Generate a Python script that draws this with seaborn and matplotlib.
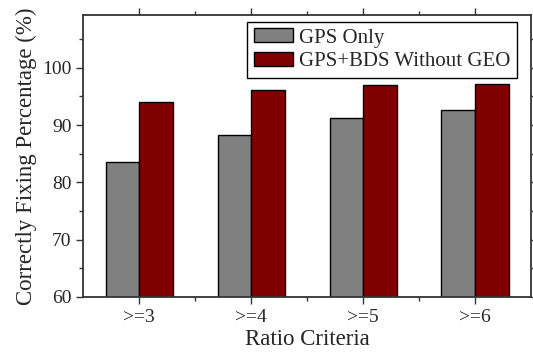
import pandas as pd
import seaborn as sns
import matplotlib
matplotlib.use("Agg")
from matplotlib import pyplot as plt
from matplotlib.ticker import MultipleLocator, FixedLocator

criteria = [">=3", ">=4", ">=5", ">=6"]
gps_only = [83.5, 88.3, 91.2, 92.6]
gps_bds = [94.1, 96.2, 96.9, 97.1]
series_names = ["GPS Only", "GPS+BDS Without GEO"]

df = pd.DataFrame({
    "Ratio Criteria": criteria * 2,
    "value": gps_only + gps_bds,
    "series": [series_names[0]] * 4 + [series_names[1]] * 4,
})

sns.set_style("ticks")
plt.rcParams["font.family"] = ["Liberation Serif", "DejaVu Serif"]
plt.rcParams["mathtext.fontset"] = "stix"

fig = plt.figure(figsize=(5.33, 3.52), dpi=100)
ax = fig.add_axes([0.1563, 0.1563, 0.8399, 0.8011])

sns.barplot(data=df, x="Ratio Criteria", y="value", hue="series",
            palette=["#808080", "#800000"], edgecolor="black", linewidth=1.0,
            width=0.6, saturation=1, ax=ax)

ax.set_xlim(-0.5, 3.5)
ax.set_ylim(60, 109.2)
ax.yaxis.set_major_locator(FixedLocator([60, 70, 80, 90, 100]))
ax.yaxis.set_minor_locator(MultipleLocator(5))
ax.xaxis.set_minor_locator(FixedLocator([0.5, 1.5, 2.5]))

for s in ax.spines.values():
    s.set_visible(True)
    s.set_color("#333333")
    s.set_linewidth(1.3)

ax.tick_params(which="both", direction="out", top=True, right=True,
               color="#333333", width=1.0)
ax.tick_params(which="major", length=5, labelsize=14)
ax.tick_params(which="minor", length=3)
ax.tick_params(axis="x", pad=4)

ax.set_xlabel("Ratio Criteria", fontsize=16.5, labelpad=2)
ax.set_ylabel("Correctly Fixing Percentage (%)", fontsize=16.5, labelpad=4)

leg = ax.legend(loc="upper right", bbox_to_anchor=(0.969, 0.975), fontsize=15,
                frameon=True, fancybox=False, edgecolor="black", framealpha=1,
                handlelength=1.9, handleheight=0.67, handletextpad=0.3,
                labelspacing=0.2, borderpad=0.3, borderaxespad=0)
leg.get_frame().set_linewidth(1.0)

fig.savefig("out.png", dpi=100)
